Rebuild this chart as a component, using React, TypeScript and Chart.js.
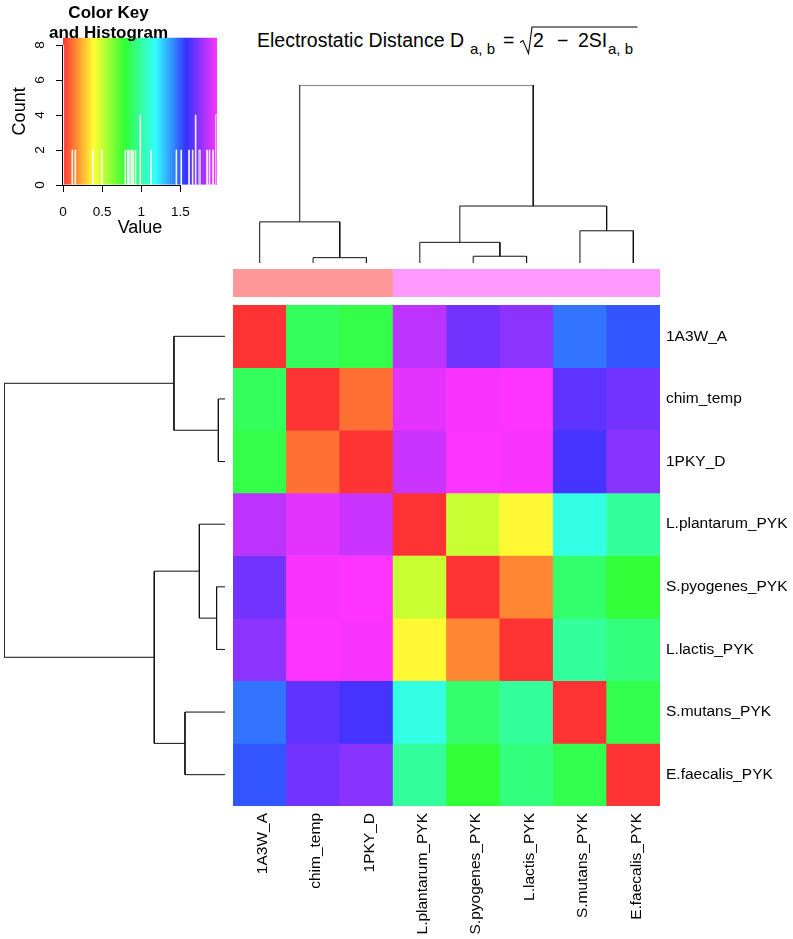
import React, { useEffect, useRef } from 'react';
import { Chart, registerables } from 'chart.js';

Chart.register(...registerables);

const FONT = "'Liberation Sans', Arial, Helvetica, sans-serif";
Chart.defaults.font.family = FONT;
Chart.defaults.color = '#000';

// ---------- data ----------
const labels = [
  '1A3W_A',
  'chim_temp',
  '1PKY_D',
  'L.plantarum_PYK',
  'S.pyogenes_PYK',
  'L.lactis_PYK',
  'S.mutans_PYK',
  'E.faecalis_PYK',
];

const row1A3W = [0, 0.87, 0.83, 1.84, 1.7, 1.75, 1.45, 1.51];
const rowChim = [0.87, 0, 0.12, 1.92, 1.96, 1.97, 1.66, 1.7];
const row1PKY = [0.83, 0.12, 0, 1.87, 1.97, 1.96, 1.61, 1.74];
const rowLplant = [1.84, 1.92, 1.87, 0, 0.5, 0.38, 1.13, 0.99];
const rowSpyo = [1.7, 1.96, 1.97, 0.5, 0, 0.16, 0.9, 0.8];
const rowLlactis = [1.75, 1.97, 1.96, 0.38, 0.16, 0, 0.99, 0.93];
const rowSmut = [1.45, 1.66, 1.61, 1.13, 0.9, 0.99, 0, 0.84];
const rowEfaec = [1.51, 1.7, 1.74, 0.99, 0.8, 0.93, 0.84, 0];
const matrix = [row1A3W, rowChim, row1PKY, rowLplant, rowSpyo, rowLlactis, rowSmut, rowEfaec];

// dendrogram merges (leaves 0..7, merge k creates node 8+k); relative heights
const mergeA = [1, 4, 3, 6, 0, 10, 12];
const mergeB = [2, 5, 9, 7, 8, 11, 13];
const mergeHeight = [0.03, 0.038, 0.116, 0.181, 0.231, 0.32, 1.0];

// column side groups
const sideGroup = ['A', 'A', 'A', 'B', 'B', 'B', 'B', 'B'];
const sideGroupColor: Record<string, string> = { A: '#FF9999', B: '#FF99FF' };

const keyXTicks = [0, 0.5, 1, 1.5];
const keyYTicks = [0, 2, 4, 6, 8];
const histBins = 256;

// ---------- helpers ----------
const allValues = matrix.flat();
const vmax = Math.max(...allValues);

function hsv(h: number, s: number, v: number) {
  const c = v * s;
  const hp = (h % 360) / 60;
  const x = c * (1 - Math.abs((hp % 2) - 1));
  let r = 0, g = 0, b = 0;
  if (hp < 1) [r, g, b] = [c, x, 0];
  else if (hp < 2) [r, g, b] = [x, c, 0];
  else if (hp < 3) [r, g, b] = [0, c, x];
  else if (hp < 4) [r, g, b] = [0, x, c];
  else if (hp < 5) [r, g, b] = [x, 0, c];
  else [r, g, b] = [c, 0, x];
  const m = v - c;
  return `rgb(${Math.round((r + m) * 255)},${Math.round((g + m) * 255)},${Math.round((b + m) * 255)})`;
}
function valueColor(v: number) {
  return hsv((Math.min(v, vmax) / vmax) * 300, 0.8, 1);
}

function histogram() {
  const counts = new Array(histBins).fill(0);
  const w = vmax / histBins;
  allValues.forEach((v) => {
    let idx = Math.ceil(v / w) - 1;
    if (idx < 0) idx = 0;
    if (idx >= histBins) idx = histBins - 1;
    counts[idx] += 1;
  });
  const pts = [];
  for (let i = 0; i <= histBins; i++) {
    pts.push({ x: i * w, y: counts[Math.min(i, histBins - 1)] });
  }
  return { pts, maxCount: Math.max(...counts) };
}

function dendroNodes() {
  const pos: number[] = labels.map((_, i) => i + 0.5);
  const h: number[] = labels.map(() => 0);
  mergeA.forEach((a, k) => {
    const b = mergeB[k];
    pos.push((pos[a] + pos[b]) / 2);
    h.push(mergeHeight[k]);
  });
  return { pos, h };
}

const lineStyle = { borderColor: '#111', borderWidth: 1, pointRadius: 0, showLine: true, fill: false };

// ---------- chart configs ----------
function keyConfig(): any {
  const { pts, maxCount } = histogram();
  const gradientPlugin = {
    id: 'keyGradient',
    beforeDraw(chart: any) {
      const { ctx, chartArea: a } = chart;
      const g = ctx.createLinearGradient(a.left, 0, a.right, 0);
      const n = 90;
      for (let i = 0; i <= n; i++) g.addColorStop(i / n, valueColor((vmax * i) / n));
      ctx.save();
      ctx.fillStyle = g;
      ctx.fillRect(a.left, a.top, a.width, a.height);
      ctx.restore();
    },
  };
  const axisLinePlugin = {
    id: 'axisLines',
    afterDraw(chart: any) {
      const { ctx, chartArea: a, scales } = chart;
      ctx.save();
      ctx.strokeStyle = '#000';
      ctx.lineWidth = 1;
      ctx.beginPath();
      const y = Math.round(a.bottom) + 0.5;
      ctx.moveTo(scales.x.getPixelForValue(keyXTicks[0]), y);
      ctx.lineTo(scales.x.getPixelForValue(keyXTicks[keyXTicks.length - 1]), y);
      const x = Math.round(a.left) - 0.5;
      ctx.moveTo(x, scales.y.getPixelForValue(keyYTicks[0]));
      ctx.lineTo(x, scales.y.getPixelForValue(keyYTicks[keyYTicks.length - 1]));
      ctx.stroke();
      ctx.restore();
    },
  };
  return {
    type: 'line',
    data: {
      datasets: [
        { data: pts, stepped: true, borderColor: 'rgba(255,255,255,0.95)', borderWidth: 1, pointRadius: 0, fill: false },
      ],
    },
    options: {
      responsive: false,
      animation: false,
      layout: { padding: { right: 13, left: 0, top: 0, bottom: 0 } },
      plugins: {
        legend: { display: false },
        tooltip: { enabled: false },
        title: {
          display: true,
          text: ['Color Key', 'and Histogram'],
          color: '#000',
          font: { size: 17, weight: 'bold', family: FONT, lineHeight: 1.18 },
          padding: { top: 3, bottom: -5.4 },
        },
      },
      scales: {
        x: {
          type: 'linear',
          min: 0,
          max: vmax,
          afterBuildTicks: (ax: any) => { ax.ticks = keyXTicks.map((v) => ({ value: v })); },
          ticks: { font: { size: 13.5 }, padding: 12, maxRotation: 0, autoSkip: false, callback: (v: any) => String(v) },
          grid: { drawOnChartArea: false, drawTicks: true, tickLength: 7, color: '#000', tickColor: '#000' },
          border: { display: false },
          title: { display: true, text: 'Value', font: { size: 18 }, padding: { top: 0, bottom: 1 } },
          afterFit: (s: any) => { s.height = 55; },
        },
        y: {
          type: 'linear',
          min: 0,
          max: maxCount / 0.95,
          afterBuildTicks: (ax: any) => { ax.ticks = keyYTicks.map((v) => ({ value: v })); },
          ticks: { font: { size: 13.5 }, padding: 12, minRotation: 90, maxRotation: 90, crossAlign: 'center', autoSkip: false },
          grid: { drawOnChartArea: false, drawTicks: true, tickLength: 7, color: '#000', tickColor: '#000' },
          border: { display: false },
          title: { display: true, text: 'Count', font: { size: 18 }, padding: { top: 9, bottom: 0 } },
          afterFit: (s: any) => { s.width = 63; },
        },
      },
    },
    plugins: [gradientPlugin, axisLinePlugin],
  };
}

function topDendroConfig(): any {
  const { pos, h } = dendroNodes();
  const datasets = mergeA.map((a, k) => {
    const b = mergeB[k];
    const hh = mergeHeight[k];
    return {
      ...lineStyle,
      data: [
        { x: pos[a], y: h[a] },
        { x: pos[a], y: hh },
        { x: pos[b], y: hh },
        { x: pos[b], y: h[b] },
      ],
    };
  });
  return {
    type: 'scatter',
    data: { datasets },
    options: {
      responsive: false,
      animation: false,
      layout: { padding: { top: 5, bottom: 5, left: 0, right: 0 } },
      plugins: { legend: { display: false }, tooltip: { enabled: false } },
      scales: {
        x: { type: 'linear', min: 0, max: labels.length, display: false },
        y: { type: 'linear', min: 0, max: 1, display: false },
      },
    },
  };
}

function leftDendroConfig(): any {
  const { pos, h } = dendroNodes();
  const datasets = mergeA.map((a, k) => {
    const b = mergeB[k];
    const hh = mergeHeight[k];
    return {
      ...lineStyle,
      data: [
        { x: h[a], y: pos[a] },
        { x: hh, y: pos[a] },
        { x: hh, y: pos[b] },
        { x: h[b], y: pos[b] },
      ],
    };
  });
  return {
    type: 'scatter',
    data: { datasets },
    options: {
      responsive: false,
      animation: false,
      layout: { padding: { top: 5, bottom: 5, left: 4, right: 5 } },
      plugins: { legend: { display: false }, tooltip: { enabled: false } },
      scales: {
        x: { type: 'linear', min: 0, max: 1, reverse: true, display: false },
        y: { type: 'linear', min: 0, max: labels.length, reverse: true, display: false },
      },
    },
  };
}

function sideConfig(): any {
  return {
    type: 'bar',
    data: {
      labels,
      datasets: [
        {
          data: sideGroup.map(() => 1),
          backgroundColor: sideGroup.map((g) => sideGroupColor[g]),
          barPercentage: 1,
          categoryPercentage: 1,
          borderWidth: 0,
        },
      ],
    },
    options: {
      responsive: false,
      animation: false,
      layout: { padding: 0 },
      plugins: { legend: { display: false }, tooltip: { enabled: false } },
      scales: {
        x: { display: false },
        y: { display: false, min: 0, max: 1 },
      },
    },
  };
}

function heatConfig(): any {
  const datasets = matrix.map((row, i) => ({
    label: labels[i],
    data: row.map(() => [i, i + 1]),
    backgroundColor: row.map((v) => valueColor(v)),
    grouped: false,
    barPercentage: 1,
    categoryPercentage: 1,
    borderWidth: 0,
  }));
  return {
    type: 'bar',
    data: { labels, datasets },
    options: {
      responsive: false,
      animation: false,
      layout: { padding: 0 },
      plugins: { legend: { display: false }, tooltip: { enabled: false } },
      scales: {
        x: {
          type: 'category',
          position: 'bottom',
          grid: { display: false, drawTicks: false },
          border: { display: false },
          ticks: { minRotation: 90, maxRotation: 90, padding: 7, labelOffset: 3, autoSkip: false, font: { size: 15.5 }, color: '#000' },
          afterFit: (s: any) => { s.height = 133; s.paddingLeft = 0; s.paddingRight = 0; },
        },
        y: {
          type: 'linear',
          position: 'right',
          min: 0,
          max: labels.length,
          reverse: true,
          afterBuildTicks: (ax: any) => { ax.ticks = labels.map((_, i) => ({ value: i + 0.5 })); },
          grid: { display: false, drawTicks: false },
          border: { display: false },
          ticks: { padding: 6, autoSkip: false, font: { size: 15.5 }, color: '#000', callback: (_v: any, i: number) => labels[i] },
          afterFit: (s: any) => { s.width = 133; s.paddingTop = 0; s.paddingBottom = 0; },
        },
      },
    },
  };
}

// ---------- components ----------
function ChartCanvas({ left, top, width, height, make }: { left: number; top: number; width: number; height: number; make: () => any }) {
  const ref = useRef<HTMLCanvasElement | null>(null);
  useEffect(() => {
    if (!ref.current) return;
    const chart = new Chart(ref.current, make());
    return () => chart.destroy();
  }, []);
  return (
    <canvas
      ref={ref}
      width={width}
      height={height}
      style={{ position: 'absolute', left, top, width, height, display: 'block' }}
    />
  );
}

function T({ left, top, size, children }: { left: number; top: number; size: number; children: React.ReactNode }) {
  return (
    <div
      style={{
        position: 'absolute',
        left,
        top,
        fontFamily: FONT,
        fontSize: size,
        lineHeight: `${size}px`,
        whiteSpace: 'nowrap',
        color: '#000',
      }}
    >
      {children}
    </div>
  );
}

function Title() {
  return (
    <>
      <T left={257} top={31} size={19.5}>Electrostatic Distance D</T>
      <T left={470} top={40.5} size={15}>a, b</T>
      <T left={503} top={31} size={19.5}>=</T>
      <svg
        width={124}
        height={34}
        style={{ position: 'absolute', left: 518, top: 24 }}
      >
        <path d="M 2 18.5 L 5 16.5 L 10.5 29.5 L 14 3 L 119.5 3" fill="none" stroke="#000" strokeWidth={1.1} />
      </svg>
      <T left={533} top={31} size={19.5}>2</T>
      <T left={557} top={31} size={19.5}>−</T>
      <T left={578} top={31} size={19.5}>2SI</T>
      <T left={608} top={40.5} size={15}>a, b</T>
    </>
  );
}

export default function App() {
  return (
    <div style={{ position: 'absolute', left: 0, top: 0, width: 793, height: 939, background: '#fff', overflow: 'hidden' }}>
      <ChartCanvas left={0} top={0} width={230} height={240} make={keyConfig} />
      <ChartCanvas left={233} top={80} width={427} height={188} make={topDendroConfig} />
      <ChartCanvas left={0} top={300} width={230} height={511} make={leftDendroConfig} />
      <ChartCanvas left={233} top={269} width={427} height={28} make={sideConfig} />
      <ChartCanvas left={233} top={305} width={560} height={634} make={heatConfig} />
      <Title />
    </div>
  );
}
